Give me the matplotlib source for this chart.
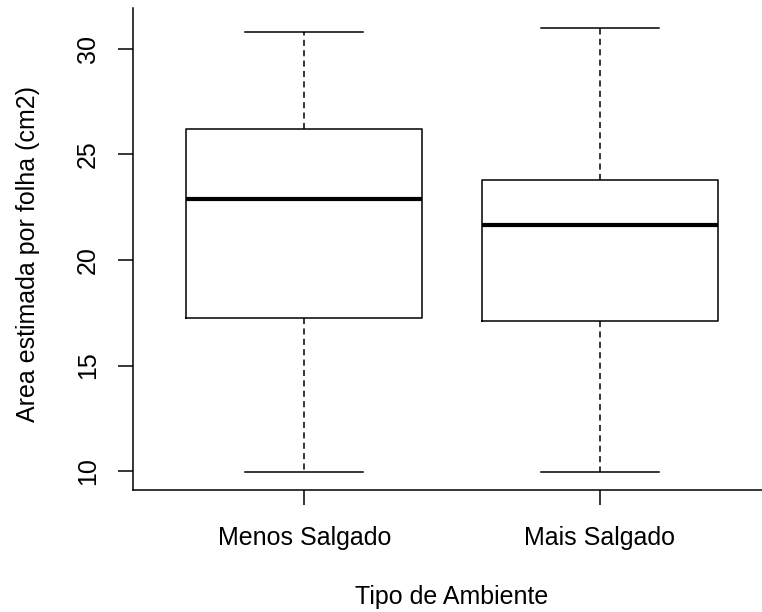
import matplotlib
matplotlib.use("Agg")
import matplotlib.pyplot as plt

# valores
grupos = ["Menos Salgado", "Mais Salgado"]
bigode_inf = [9.95, 9.95]
q1 = [17.25, 17.1]
mediana = [22.9, 21.65]
q3 = [26.2, 23.8]
bigode_sup = [30.8, 31.0]

plt.rcParams["font.family"] = ["Liberation Sans", "DejaVu Sans"]

stats = []
for i, g in enumerate(grupos):
    stats.append({
        "label": g,
        "whislo": bigode_inf[i],
        "q1": q1[i],
        "med": mediana[i],
        "q3": q3[i],
        "whishi": bigode_sup[i],
        "fliers": [],
    })

fig = plt.figure(figsize=(7.62, 6.12), dpi=100)
ax = fig.add_axes([133 / 762, 1 - 490 / 612, 638 / 762, 482 / 612])

ax.bxp(
    stats,
    positions=[1, 2],
    widths=0.8,
    showfliers=False,
    boxprops=dict(color="black", linewidth=1.1),
    medianprops=dict(color="black", linewidth=3.0, solid_capstyle="butt"),
    whiskerprops=dict(color="black", linewidth=1.1, linestyle=(0, (4, 2.8))),
    capprops=dict(color="black", linewidth=1.1),
    capwidths=0.4,
)

# limites no estilo do R (4% de folga)
lo, hi = 9.95, 31.09
ext = 0.04 * (hi - lo)
ax.set_ylim(lo - ext, hi + ext)
ax.set_xlim(0.42, 2.58)

ax.set_yticks([10, 15, 20, 25, 30])
ax.set_yticklabels(["10", "15", "20", "25", "30"], rotation=90, va="center")
ax.set_xticks([1, 2])
ax.set_xticklabels(grupos)

# caixa em "L" (bty = "l")
ax.spines["top"].set_visible(False)
ax.spines["right"].set_visible(False)
for s in ["left", "bottom"]:
    ax.spines[s].set_linewidth(1.1)

ax.tick_params(axis="both", direction="out", length=10.8, width=1.1,
               labelsize=18, colors="black")
ax.tick_params(axis="y", pad=13)
ax.tick_params(axis="x", pad=15)

ax.set_xlabel("Tipo de Ambiente", fontsize=18, va="center")
ax.xaxis.set_label_coords(0.5, -0.222)
ax.set_ylabel("Area estimada por folha (cm2)", fontsize=18, va="center")
ax.yaxis.set_label_coords(-0.1646, 0.49)

fig.savefig("out.png", dpi=100)
